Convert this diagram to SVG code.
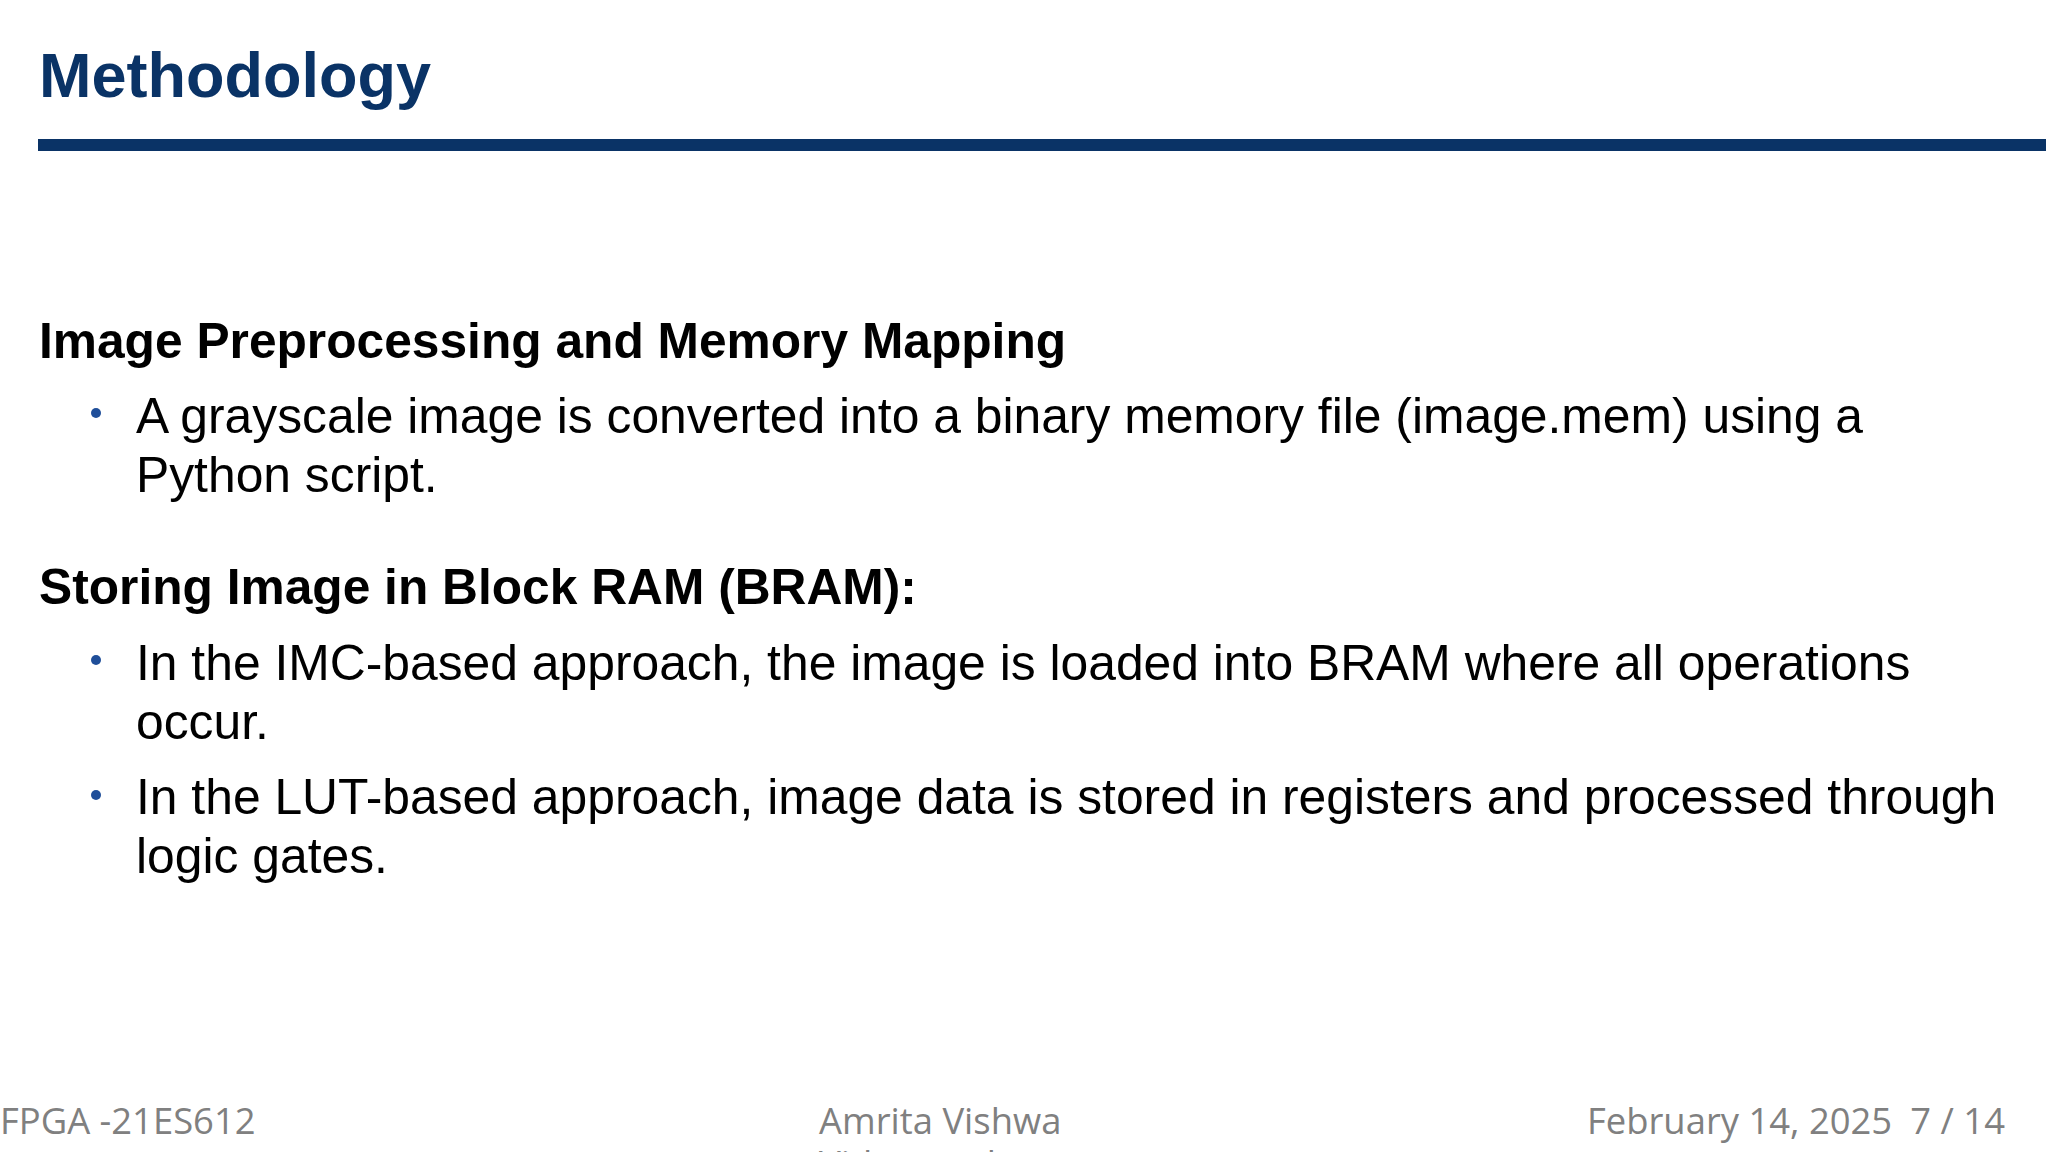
<svg xmlns="http://www.w3.org/2000/svg" width="2048" height="1152" viewBox="0 0 2048 1152">
<style>
.t{font-family:"Liberation Sans",Arial,sans-serif;fill:#000}
.h{font-weight:bold;font-size:49.7px}
.b{font-size:49.8px}
.f{font-family:"Open Sans","Noto Sans",sans-serif;font-size:36.4px;fill:#808080}
.dot{fill:#1f4e99}
</style>
<rect width="2048" height="1152" fill="#fff"/>
<g id="title">
<text x="39" y="97" class="t" style="font-weight:bold;font-size:63px;fill:#0a3366">Methodology</text>
<rect x="38" y="139" width="2008" height="12" fill="#0a3366"/>
</g>
<g id="section1">
<text x="39" y="358" class="t h">Image Preprocessing and Memory Mapping</text>
<circle cx="96" cy="413" r="5" class="dot"/>
<text x="136" y="433" class="t b">A grayscale image is converted into a binary memory file (image.mem) using a</text>
<text x="136" y="492" class="t b">Python script.</text>
</g>
<g id="section2">
<text x="39" y="604" class="t h">Storing Image in Block RAM (BRAM):</text>
<circle cx="96" cy="660" r="5" class="dot"/>
<text x="136" y="680" class="t b">In the IMC-based approach, the image is loaded into BRAM where all operations</text>
<text x="136" y="739" class="t b">occur.</text>
<circle cx="96" cy="795" r="5" class="dot"/>
<text x="136" y="814" class="t b">In the LUT-based approach, image data is stored in registers and processed through</text>
<text x="136" y="873" class="t b">logic gates.</text>
</g>
<g id="footer">
<text x="0" y="1134" class="f">FPGA -21ES612</text>
<text x="819" y="1134" class="f">Amrita Vishwa</text>
<text x="819" y="1177" class="f">Vidyapeetham</text>
<text x="1587" y="1134" class="f">February 14, 2025</text>
<text x="2005" y="1134" class="f" text-anchor="end">7 / 14</text>
</g>
</svg>
